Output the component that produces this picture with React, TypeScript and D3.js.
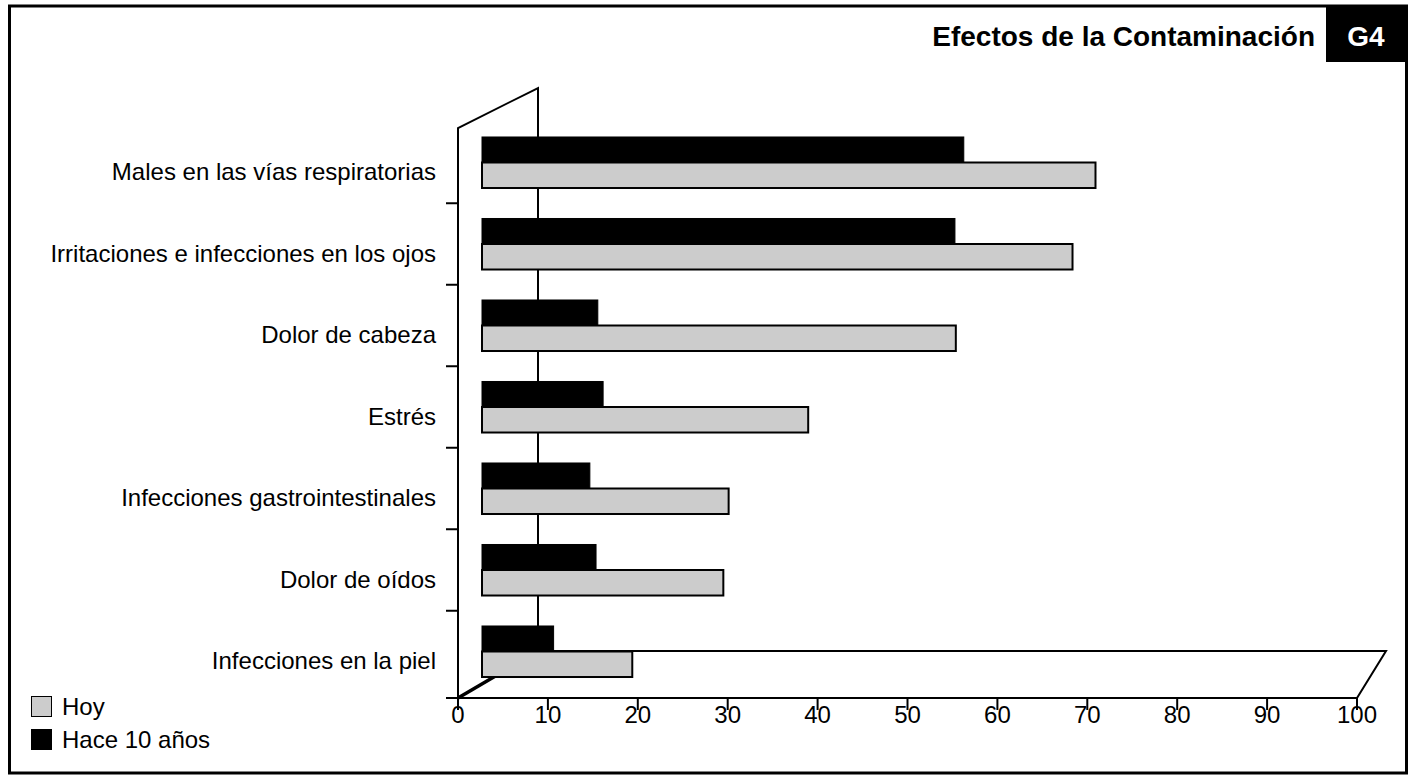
import React from 'react';
import * as d3 from 'd3';

const categories = [
  'Males en las vías respiratorias',
  'Irritaciones e infecciones en los ojos',
  'Dolor de cabeza',
  'Estrés',
  'Infecciones gastrointestinales',
  'Dolor de oídos',
  'Infecciones en la piel',
];
const hoy = [69.4, 66.8, 53.6, 36.9, 27.9, 27.3, 17.0];
const hace10 = [54.5, 53.5, 13.1, 13.7, 12.2, 12.9, 8.1];
const xTicks = [0, 10, 20, 30, 40, 50, 60, 70, 80, 90, 100];
const seriesNames = ['Hoy', 'Hace 10 años'];
const seriesColors = ['#cccccc', '#000000'];

const W = 1414;
const H = 780;
const FONT = '"Liberation Sans", Arial, Helvetica, sans-serif';

// front plane / back plane of the 3d box
const front = { left: 458, right: 1357, top: 128, bottom: 698 };
const back = { left: 538, right: 1386, top: 88, bottom: 651 };

export default function App() {
  const xFront = d3.scaleLinear().domain([0, 100]).range([front.left, front.right]);
  const xBar = d3.scaleLinear().domain([0, 100]).range([482, 1366]);
  const y = d3.scaleBand<string>()
    .domain(categories)
    .range([121.75, 692.25])
    .paddingInner(0.374)
    .paddingOuter(0.187);
  const bw = y.bandwidth();
  const half = bw / 2;

  const floor = [
    [front.left, front.bottom],
    [back.left, back.bottom],
    [back.right, back.bottom],
    [front.right, front.bottom],
  ];
  const line = d3.line();

  return (
    <svg width={W} height={H} style={{ position: 'absolute', left: 0, top: 0, background: '#fff' }}>
      {/* frame */}
      <rect x={9.5} y={6} width={1397} height={767} fill="none" stroke="#000" strokeWidth={3} />
      <rect x={1326} y={6} width={81} height={56} fill="#000" />
      <text x={1366} y={46} textAnchor="middle" fontFamily={FONT} fontWeight="bold" fontSize={28} fill="#fff">G4</text>
      <text x={1315} y={46} textAnchor="end" fontFamily={FONT} fontWeight="bold" fontSize={28} fill="#000">
        Efectos de la Contaminación
      </text>

      {/* left wall + back edge */}
      <path d={`M${front.left},${front.bottom}V${front.top}L${back.left},${back.top}V${back.bottom}`}
        fill="none" stroke="#000" strokeWidth={2} />
      {/* floor */}
      <path d={line(floor as [number, number][]) + 'Z'} fill="none" stroke="#000" strokeWidth={2} />
      <line x1={front.left} y1={front.bottom} x2={back.left} y2={back.bottom} stroke="#000" strokeWidth={3.5} />

      {/* left wall ticks */}
      {categories.slice(1).map((c) => {
        const ty = (y(c) as number) - y.step() * y.paddingInner() / 2;
        return <line key={c} x1={446} x2={front.left} y1={ty} y2={ty} stroke="#000" strokeWidth={2} />;
      })}
      <line x1={446} x2={front.left} y1={front.bottom} y2={front.bottom} stroke="#000" strokeWidth={2} />

      {/* bars */}
      {categories.map((c, i) => (
        <g key={c}>
          <rect x={xBar(0)} y={(y(c) as number) + half} width={xBar(hoy[i]) - xBar(0)} height={half}
            fill={seriesColors[0]} stroke="#000" strokeWidth={2} />
          <rect x={xBar(0)} y={y(c) as number} width={xBar(hace10[i]) - xBar(0)} height={half}
            fill={seriesColors[1]} stroke="#000" strokeWidth={1} />
          <text x={436} y={(y(c) as number) + half + 17.5} textAnchor="end" fontFamily={FONT} fontSize={24} fill="#000">
            {c}
          </text>
        </g>
      ))}

      {/* x axis */}
      <line x1={front.left} x2={front.right} y1={front.bottom} y2={front.bottom} stroke="#000" strokeWidth={2} />
      {xTicks.map((t) => (
        <g key={t}>
          <line x1={xFront(t)} x2={xFront(t)} y1={front.bottom} y2={front.bottom + 12} stroke="#000" strokeWidth={2} />
          <text x={xFront(t)} y={723} textAnchor="middle" fontFamily={FONT} fontSize={24} fill="#000">{t}</text>
        </g>
      ))}

      {/* legend */}
      {seriesNames.map((s, i) => (
        <g key={s} transform={`translate(31,${696 + i * 33})`}>
          <rect x={0.5} y={0.5} width={20} height={20} fill={seriesColors[i]} stroke="#000" strokeWidth={1} />
          <text x={31} y={19} fontFamily={FONT} fontSize={24} fill="#000">{s}</text>
        </g>
      ))}
    </svg>
  );
}
